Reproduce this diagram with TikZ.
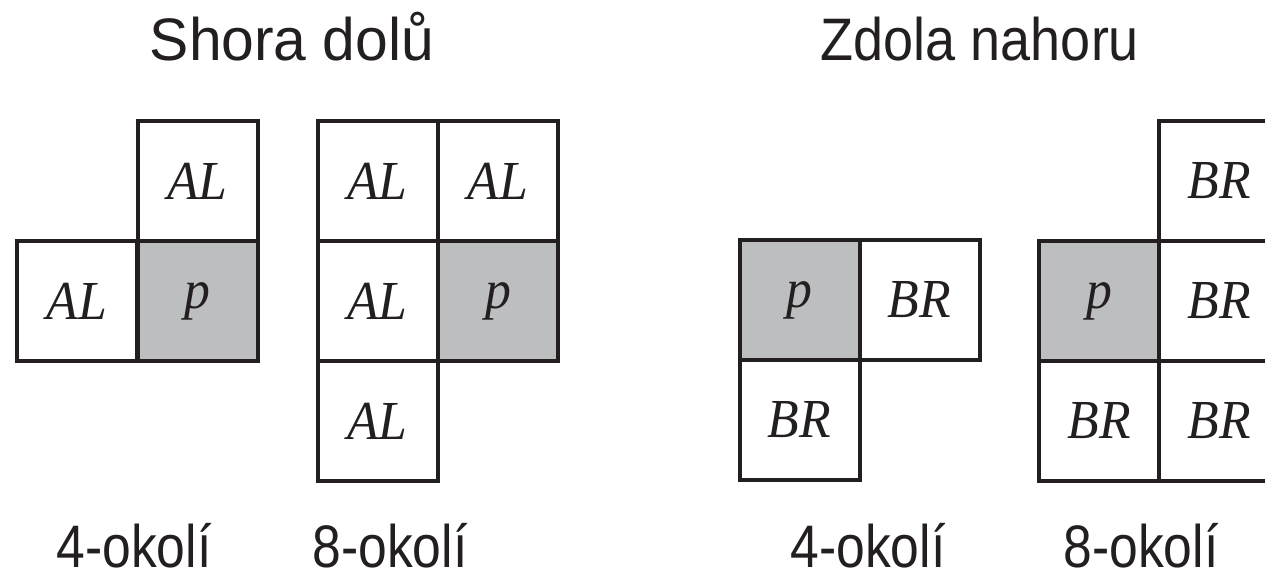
\documentclass[tikz,border=0pt]{standalone}
\usepackage{fontspec}
\setmainfont{Liberation Serif}
\newfontfamily\cellfont[FakeStretch=0.94]{Liberation Serif}
\newfontfamily\headfont[FakeStretch=0.9]{Liberation Sans}
\newfontfamily\headwide[FakeStretch=0.98]{Liberation Sans}
\newfontfamily\capfont[FakeStretch=0.86]{Liberation Sans}
\definecolor{ink}{HTML}{231F20}
\definecolor{cellgray}{HTML}{BCBEC0}
\begin{document}
\begin{tikzpicture}[x=1pt,y=-1pt,
  cell/.style={draw=ink, line width=4pt, minimum size=120pt, inner sep=0pt,
               fill=white, text=ink, font=\cellfont\fontsize{55}{55}\selectfont\itshape},
  pixel/.style={cell, fill=cellgray},
  head/.style={font=\headfont\fontsize{60}{60}\selectfont, text=ink,
               anchor=base, inner sep=0pt},
  headw/.style={head, font=\headwide\fontsize{60}{60}\selectfont},
  caption/.style={head, font=\capfont\fontsize{60}{60}\selectfont}]
\useasboundingbox (0,0) rectangle (1265,573);

% top-down scan, 4-neighbourhood
\node[cell]  (ta4u) at (197.5,181) {AL};
\node[cell]  (ta4l) at (77,301)    {AL};
\node[pixel] (tp4)  at (197.5,301) {p};

% top-down scan, 8-neighbourhood
\node[cell]  (ta8ul) at (377.5,181) {AL};
\node[cell]  (ta8u)  at (498,181)   {AL};
\node[cell]  (ta8l)  at (377.5,301) {AL};
\node[pixel] (tp8)   at (498,301)   {p};
\node[cell]  (ta8dl) at (377.5,421) {AL};

% bottom-up scan, 4-neighbourhood
\node[pixel] (bp4)  at (799.5,300) {p};
\node[cell]  (bb4r) at (919.5,300) {BR};
\node[cell]  (bb4d) at (799.5,420) {BR};

% bottom-up scan, 8-neighbourhood
\node[pixel] (bp8)   at (1099,301)  {p};
\node[cell]  (bb8ur) at (1219,181)  {BR};
\node[cell]  (bb8r)  at (1219,301)  {BR};
\node[cell]  (bb8d)  at (1099,421)  {BR};
\node[cell]  (bb8dr) at (1219,421)  {BR};

% headings
\node[headw] (htop) at (292,60) {Shora dolů};
\node[head]  (hbot) at (980,60) {Zdola nahoru};

% captions
\node[caption] (c1) at (134,567)  {4-okolí};
\node[caption] (c2) at (390,567)  {8-okolí};
\node[caption] (c3) at (868,567)  {4-okolí};
\node[caption] (c4) at (1141,567) {8-okolí};
\end{tikzpicture}
\end{document}
